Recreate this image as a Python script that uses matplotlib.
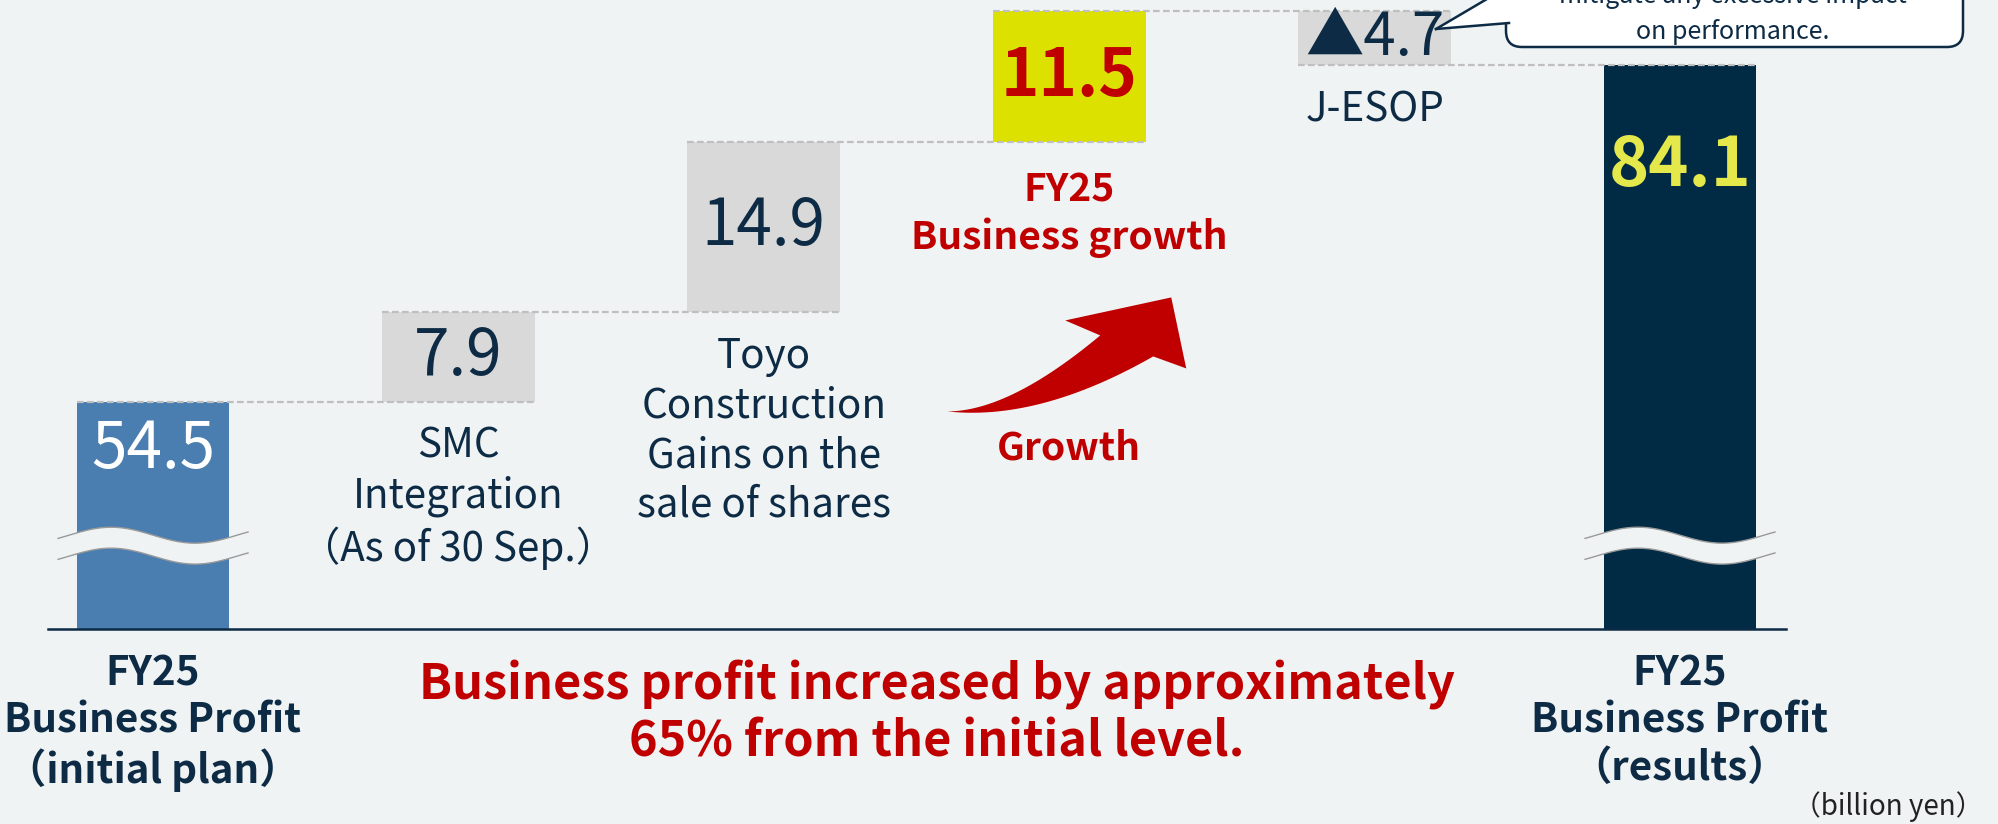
import matplotlib
matplotlib.use('Agg')
import matplotlib.pyplot as plt
import matplotlib.transforms as mtransforms
from matplotlib.patches import Polygon, FancyBboxPatch
import numpy as np

plt.rcParams['font.family'] = ['Noto Sans CJK JP', 'DejaVu Sans']

# waterfall data (billion yen)
categories = ['FY25\nBusiness Profit\n（initial plan）',
              'SMC\nIntegration\n（As of 30 Sep.）',
              'Toyo\nConstruction\nGains on the\nsale of shares',
              'FY25\nBusiness growth',
              'J-ESOP',
              'FY25\nBusiness Profit\n（results）']
values = [54.5, 7.9, 14.9, 11.5, -4.7, 84.1]
value_labels = ['54.5', '7.9', '14.9', '11.5', '▲4.7', '84.1']
kinds = ['total', 'step', 'step', 'step', 'step', 'total']

summary = 'Business profit increased by approximately\n65% from the initial level.'
growth_label = 'Growth'
callout_lines = ['mitigate any excessive impact', 'on performance.']
unit_label = '（billion yen）'

# colours
bg = '#EFF3F4'
navy = '#0D2B45'
red = '#C00000'
bar_colors = ['#4A7DB0', '#D9D9D9', '#D9D9D9', '#DDE100', '#D9D9D9', '#012B45']
val_colors = ['white', navy, navy, red, navy, '#E5E84A']
val_weights = ['normal', 'normal', 'normal', 'bold', 'normal', 'bold']
val_sizes = [46, 46, 46, 47, 42, 49]

# bar geometry from the running total
bottoms, heights, levels = [], [], []
running = 0
for v, k in zip(values, kinds):
    if k == 'total':
        bottoms.append(0)
        heights.append(v)
        running = v
    else:
        bottoms.append(running + min(v, 0))
        heights.append(abs(v))
        running += v
    levels.append(running)

x = np.arange(len(values))
bar_w = 0.5

fig = plt.figure(figsize=(19.99, 8.24), dpi=100, facecolor=bg)
ax = fig.add_axes([48 / 1999, 195 / 824, 1738 / 1999, 629 / 824])
ax.set_facecolor(bg)
ax.set_xlim(-0.344, 5.347)
ax.set_ylim(34.56, 89.81)
for s in ['top', 'left', 'right']:
    ax.spines[s].set_visible(False)
ax.spines['bottom'].set_color(navy)
ax.spines['bottom'].set_linewidth(1.8)
ax.set_xticks([])
ax.set_yticks([])

ax.bar(x, heights, bottom=bottoms, width=bar_w, color=bar_colors, zorder=2)

# dashed connectors: from left edge of bar i to right edge of bar i+1
for i in range(len(values) - 1):
    ax.plot([x[i] - bar_w / 2, x[i + 1] + bar_w / 2], [levels[i], levels[i]],
            color='#BFBFBF', lw=1.6, ls=(0, (3, 1.5)), zorder=3)

# value labels
for i, lab in enumerate(value_labels):
    if kinds[i] == 'total':
        ty = bottoms[i] + heights[i]
        off = {0: -48, 5: -101}[i]
    else:
        ty = bottoms[i] + heights[i] / 2
        off = 0
    tr = mtransforms.offset_copy(ax.transData, fig, y=off, units='dots')
    ax.text(x[i], ty, lab, transform=tr, ha='center', va='center',
            fontsize=val_sizes[i], color=val_colors[i], fontweight=val_weights[i], zorder=5)

# category labels
for i, cat in enumerate(categories):
    if kinds[i] == 'total':
        tr = mtransforms.offset_copy(ax.transData, fig, y=-24, units='dots')
        ax.text(x[i], ax.get_ylim()[0], cat, transform=tr, ha='center', va='top',
                fontsize=29, fontweight='bold', color=navy, linespacing=1.2, clip_on=False)
    else:
        is_growth = i == 3
        tr = mtransforms.offset_copy(ax.transData, fig, y=-24 if not is_growth else -28, units='dots')
        ax.text(x[i], bottoms[i], cat, transform=tr, ha='center', va='top',
                fontsize=28 if is_growth else 29,
                fontweight='bold' if is_growth else 'normal',
                color=red if is_growth else navy, linespacing=1.27)

# axis break marks on the two total bars
xs = np.linspace(-0.311, 0.311, 80)
wave = 0.70 * np.sin(2 * np.pi * xs / 0.55)
for i in [0, 5]:
    upper = 42.8 - wave
    lower = upper - 1.84
    band = np.column_stack([np.r_[x[i] + xs, x[i] + xs[::-1]], np.r_[upper, lower[::-1]]])
    ax.add_patch(Polygon(band, closed=True, fc=bg, ec='none', zorder=4))
    ax.plot(x[i] + xs, upper, color='#9A9A9A', lw=1.0, zorder=4)
    ax.plot(x[i] + xs, lower, color='#9A9A9A', lw=1.0, zorder=4)


def qbez(p0, p1, p2, n=30):
    t = np.linspace(0, 1, n)[:, None]
    return (1 - t) ** 2 * np.array(p0) + 2 * (1 - t) * t * np.array(p1) + t ** 2 * np.array(p2)


# curved growth arrow, offsets in px (y down) from the base of the growth bar
tail = (-122, 269)
upper_edge = qbez(tail, (-60, 269), (31, 193))
lower_edge = qbez((84, 214), (-30, 279), tail)
head = np.array([(-4, 178), (102, 155), (117, 226)])
shape = np.vstack([upper_edge, head, lower_edge])
ax_x, ax_y = ax.transData.transform((x[3], bottoms[3]))
disp = np.column_stack([ax_x + shape[:, 0], ax_y - shape[:, 1]])
ax.add_patch(Polygon(ax.transData.inverted().transform(disp), closed=True,
                     fc=red, ec='none', zorder=3))
tr = mtransforms.offset_copy(ax.transData, fig, y=-306, units='dots')
ax.text(x[3], bottoms[3], growth_label, transform=tr, ha='center', va='center',
        fontsize=28, fontweight='bold', color=red)

# summary
fig.text(937 / 1999, 1 - 713 / 824, summary, ha='center', va='center', fontsize=35,
         fontweight='bold', color=red, linespacing=1.2)

# callout box at top right (partly outside the figure)
ident = mtransforms.IdentityTransform()
box = FancyBboxPatch((1506, 777), 457, 140, boxstyle='round,pad=0,rounding_size=16',
                     fc='white', ec=navy, lw=1.8, transform=ident, zorder=10)
fig.add_artist(box)
pointer = Polygon([(1436, 795), (1509, 801), (1509, 838)], closed=True, fc='white',
                  ec='none', transform=ident, zorder=11)
fig.add_artist(pointer)
for p in [(1509, 801), (1509, 838)]:
    fig.add_artist(plt.Line2D([1436, p[0]], [795, p[1]], color=navy, lw=1.8,
                              transform=ident, zorder=12))
fig.text(1733 / 1999, 1 + 4 / 824, callout_lines[0], ha='center', va='center',
         fontsize=18, color=navy, zorder=13)
fig.text(1733 / 1999, 1 - 32 / 824, callout_lines[1], ha='center', va='center',
         fontsize=18, color=navy, zorder=13)

fig.text(1983 / 1999, 1 - 807 / 824, unit_label, ha='right', va='center',
         fontsize=20, color='#222222')

fig.savefig('out.png', dpi=100, facecolor=bg)
